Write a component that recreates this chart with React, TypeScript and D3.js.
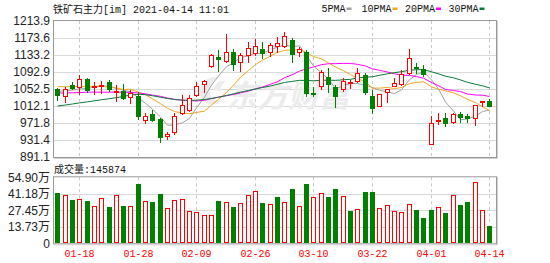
import React from "react";
import * as d3 from "d3";

const dates = ["01-13","01-14","01-15","01-18","01-19","01-20","01-21","01-22","01-25","01-26","01-27","01-28","01-29","02-01","02-02","02-03","02-04","02-05","02-08","02-09","02-10","02-18","02-19","02-22","02-23","02-24","02-25","02-26","03-01","03-02","03-03","03-04","03-05","03-08","03-09","03-10","03-11","03-12","03-15","03-16","03-17","03-18","03-19","03-22","03-23","03-24","03-25","03-26","03-29","03-30","03-31","04-01","04-02","04-06","04-07","04-08","04-09","04-12","04-13","04-14"];

const openP = [1052,1033,1062,1054,1076,1054,1056.5,1070,1042.5,1047.5,1030.5,1036,976.5,993,980.5,938,949,993,1001,1036,1062,1104,1127.5,1116.5,1141,1113.5,1131,1135.5,1146.5,1138,1153,1151.5,1169,1138.5,1141,1043,1056.5,1081.5,1058,1050,1064.5,1070,1085.5,1036,1010.5,1042.5,1058,1062,1088,1104,1100,919.5,978,983,971,993,988.5,980.5,1018.5,1024.5];
const highP = [1055,1058,1070,1085,1078,1070,1072,1074,1062,1064.5,1050,1046,995,1002.5,983,951,995,1038,1038,1070,1074,1135.5,1145,1183,1146.5,1137,1165,1170,1165,1161,1176.5,1188.5,1173,1153,1145,1057,1097.5,1101.5,1062,1078,1074,1101.5,1090,1050,1040.5,1053.5,1078,1097.5,1146.5,1113.5,1109.5,988.5,995,995,996,998.5,993,1014.5,1024,1028];
const lowP = [1024.5,1018.5,1050,1038,1042,1038,1040.5,1046,1022.5,1026.5,1017,979,969.5,975,925,931.5,943.5,991,998.5,1033,1043.5,1101.5,1093.5,1114,1095,1093.5,1113.5,1131,1123.5,1129,1137,1149,1115,1129,1033.5,1033,1050,1042.5,1006.5,1046,1052,1067.5,1038.5,993,1010,1020,1056.5,1059.5,1085.5,1088,1081.5,919.5,967,963,969.5,971,972.5,964.5,1009,1009];
const closeP = [1037,1053,1052.5,1075.5,1048.5,1059.5,1062.5,1050,1047.5,1028,1042.5,986,988.5,977.5,935.5,945.5,988.5,1014.5,1030.5,1059.5,1072,1133,1121.5,1141,1108.5,1133,1151,1154.5,1135.5,1157,1161,1178.5,1133,1146.5,1040.5,1038.5,1093.5,1062,1033,1072,1070,1090,1042.5,1004.5,1040,1053,1067.5,1088,1125.5,1100,1085.5,972.5,980,969.5,993,983,980.5,1014.5,1024,1010.5];

// volume in 万 (10k lots)
const volume = [41.6,40.2,36.1,36.6,35.2,31.1,37.4,30.5,40.2,31.1,31.1,49.4,35.2,34.4,40.8,29.7,36.1,36.6,27.2,26.3,23.3,23.3,35.2,34.4,30.5,33.3,40.2,43.8,33.6,32.7,38.5,34.1,44.9,31.1,49.4,38.5,42.2,38.5,45.5,39.4,26.9,28.6,42.4,42.4,29.4,31.9,26.9,25.8,32.7,27.5,21.1,27.5,30.5,25.2,40.2,32.2,34.4,50.7,28.0,14.59];
const volUp = [0,1,0,1,0,1,1,0,1,0,1,0,1,0,0,1,1,1,1,1,1,1,0,1,0,1,1,1,0,1,0,1,0,1,0,1,1,0,0,1,0,1,0,0,1,1,1,1,1,0,0,0,1,0,1,0,0,1,1,0];

const ma5 = [1047,1048,1050,1053,1053.3,1057.8,1059.7,1059.2,1053.6,1049.5,1046.1,1030.8,1018.5,1004.5,986,966.6,967.1,972.3,982.9,1007.7,1033,1061.9,1083.3,1105.4,1115.2,1127.4,1131,1137.6,1136.5,1146.2,1151.8,1157.3,1153,1155.2,1131.9,1107.4,1090.4,1076.2,1053.5,1059.8,1066.1,1065.4,1061.5,1055.8,1049.4,1046,1041.5,1050.6,1074.8,1086.8,1093.3,1074.3,1052.7,1021.5,1000.1,979.6,981.2,988.1,999,1002.5];
const ma10 = [1058,1058,1058,1058.5,1059,1059,1058.5,1057,1054.5,1051.4,1052,1045.3,1038.9,1029.1,1017.8,1006.4,999,995.4,993.7,996.9,999.8,1014.5,1027.8,1044.2,1061.5,1080.2,1096.5,1110.5,1121,1130.7,1139.6,1144.2,1145.3,1145.9,1139.1,1129.6,1123.9,1114.6,1104.4,1095.9,1086.8,1077.9,1068.9,1054.7,1054.6,1056.1,1053.5,1056.1,1065.3,1068.1,1069.7,1057.9,1051.7,1048.2,1043.5,1036.5,1027.8,1020.4,1010.3,1001.3];
const ma20 = [1043,1043,1043.5,1044,1045,1045,1045,1045,1045,1045,1044.5,1043,1041,1038,1035,1031,1028,1026,1025,1024.1,1025.9,1029.9,1033.3,1036.6,1039.6,1043.3,1047.7,1052.9,1057.3,1063.8,1069.7,1079.3,1086.6,1095,1100.3,1104.9,1110.2,1112.5,1112.7,1113.3,1113.2,1111,1107.1,1100.3,1096.8,1092.8,1088.7,1085.3,1084.8,1082,1078.2,1067.9,1060.3,1051.4,1049,1046.3,1040.6,1038.2,1037.8,1034.7];
const ma30 = [1012,1014.5,1017,1019.5,1022,1024.5,1027,1029.5,1032,1035,1038,1040,1039,1036.5,1033,1030,1027.5,1026,1025.5,1026,1027.5,1030,1033,1037,1041,1045,1049,1052.5,1056,1059.7,1063.8,1068,1070.7,1073,1072.8,1072.1,1073.1,1073.5,1073,1074.5,1075.4,1078.9,1080.7,1081.6,1085,1088.6,1091.3,1093.7,1096.9,1098.2,1098.7,1093.3,1088.6,1082.9,1079,1074,1068.4,1063.7,1060,1055.1];

const priceTicks = [1213.9,1173.6,1133.2,1092.9,1052.5,1012.1,971.8,931.4,891.1];
const volTicks = [54.90,41.18,27.45,13.73,0];
const volTickLabels = ["54.90万","41.18万","27.45万","13.73万","0"];
const tickDates = ["01-18","01-28","02-09","02-26","03-10","03-22","04-01","04-14"];

const legendItems = [
  { name: "5PMA", color: "#a0a0a0", data: ma5, tx: 321.5 },
  { name: "10PMA", color: "#f5a623", data: ma10, tx: 361.5 },
  { name: "20PMA", color: "#ff00ff", data: ma20, tx: 405 },
  { name: "30PMA", color: "#0b7a3a", data: ma30, tx: 448.5 },
];

const RED = "#ff0000";
const GREEN = "#008000";
const MONO = "'Liberation Mono', 'Noto Sans CJK SC', monospace";
const SANS = "'Liberation Sans', Arial, 'Noto Sans CJK SC', sans-serif";

export default function App() {
  const L = 53, Rr = 497;
  const pTop = 21, pBot = 157;
  const vTop = 177.3, vBot = 243.3;

  const x = d3.scaleBand<string>().domain(dates).range([53.6, 492.8]);
  const cxOf = (d: string) => Math.round((x(d) as number) + x.bandwidth() / 2);
  const y = d3.scaleLinear().domain([891.1, 1213.9]).range([pBot, pTop]);
  const yv = d3.scaleLinear().domain([0, 54.9]).range([vBot, vTop]);

  const line = (arr: number[]) =>
    d3.line<number>()
      .x((_, i) => cxOf(dates[i]) + 0.5)
      .y((v) => y(v))(arr) as string;

  return (
    <div style={{ position: "absolute", left: 0, top: 0 }}>
      <svg width={550} height={263} style={{ display: "block", background: "#fff" }}>
        {/* title */}
        <text x={53} y={12.5} fontSize={10} fontFamily={MONO} fill="#111">铁矿石主力[im] 2021-04-14 11:01</text>
        {/* legend */}
        {legendItems.map((it) => (
          <g key={it.name}>
            <text x={it.tx} y={12} fontSize={10} fontFamily={MONO} fill="#111">{it.name}</text>
            <rect x={it.tx + it.name.length * 6 + 1} y={7.5} width={5} height={2.5} fill={it.color} />
          </g>
        ))}

        {/* price panel gridlines */}
        {priceTicks.slice(1, -1).map((t) => (
          <line key={"pg" + t} x1={L} x2={Rr} y1={Math.round(y(t)) + 0.5} y2={Math.round(y(t)) + 0.5} stroke="#d9d9d9" />
        ))}
        {tickDates.map((d) => (
          <line key={"pv" + d} x1={cxOf(d) + 0.5} x2={cxOf(d) + 0.5} y1={pTop} y2={pBot} stroke="#c8c8c8" strokeDasharray="3,3" />
        ))}
        {/* watermark */}
        <g fill="#ececec">
          <path d="M200,96 C198,84 206,76 218,77 C212,81 208,87 210,94 C212,100 218,102 224,99 C220,106 204,107 200,96 Z" />
          <path d="M214,90 C214,84 219,80 226,81 C222,84 220,88 221,92 Z" />
        </g>
        <text x={226} y={107} fontSize={31} fontWeight="bold" fontStyle="italic" fontFamily="'Noto Sans CJK SC', sans-serif" fill="#ececec">东方财富</text>

        {/* MA lines */}
        {legendItems.map((it) => (
          <path key={"ma" + it.name} d={line(it.data)} fill="none" stroke={it.color} strokeWidth={1} />
        ))}

        {/* candles */}
        <g shapeRendering="crispEdges">
          {dates.map((d, i) => {
            const c = cxOf(d);
            const o = openP[i], cl = closeP[i], h = highP[i], lo = lowP[i];
            const up = cl >= o;
            const yTop = Math.round(y(Math.max(o, cl)));
            const yBot = Math.round(y(Math.min(o, cl)));
            const yH = Math.round(y(h));
            const yL = Math.round(y(lo));
            const col = up ? RED : GREEN;
            const bh = Math.max(1, yBot - yTop);
            return (
              <g key={d}>
                <line x1={c + 0.5} x2={c + 0.5} y1={yH} y2={yTop} stroke={col} />
                <line x1={c + 0.5} x2={c + 0.5} y1={yTop + bh} y2={Math.max(yL, yTop + bh)} stroke={col} />
                {up ? (
                  <rect x={c - 1.5} y={yTop + 0.5} width={4} height={Math.max(0.5, bh - 1)} fill="#fff" stroke={col} />
                ) : (
                  <rect x={c - 2} y={yTop} width={5} height={bh} fill={col} />
                )}
              </g>
            );
          })}
        </g>

        {/* price frame */}
        <rect x={L + 0.5} y={pTop - 0.5} width={Rr - L - 1} height={pBot - pTop + 1} fill="none" stroke="#999" />
        <line x1={Rr + 0.5} x2={Rr + 0.5} y1={pTop} y2={pBot + 1} stroke="#d0d0d0" />
        <line x1={L + 1} x2={Rr + 1} y1={pBot + 1.5} y2={pBot + 1.5} stroke="#d0d0d0" />
        {priceTicks.map((t) => (
          <text key={"pt" + t} x={50} y={y(t)} dy="0.36em" textAnchor="end" fontSize={12} fontFamily={SANS} fill="#222">{t.toFixed(1)}</text>
        ))}

        {/* volume */}
        <text x={54} y={172.5} fontSize={10} fontFamily={MONO} fill="#111">成交量:145874</text>
        {volTicks.slice(1, -1).map((t) => (
          <line key={"vg" + t} x1={L} x2={Rr} y1={Math.round(yv(t)) + 0.5} y2={Math.round(yv(t)) + 0.5} stroke="#d9d9d9" />
        ))}
        {tickDates.map((d) => (
          <line key={"vv" + d} x1={cxOf(d) + 0.5} x2={cxOf(d) + 0.5} y1={vTop} y2={vBot} stroke="#c8c8c8" strokeDasharray="3,3" />
        ))}
        <g shapeRendering="crispEdges">
          {dates.map((d, i) => {
            const c = cxOf(d);
            const yt = Math.round(yv(volume[i]));
            const yb = Math.round(yv(0));
            return volUp[i] ? (
              <rect key={"v" + d} x={c - 1.5} y={yt + 0.5} width={4} height={yb - yt - 1} fill="#fff" stroke={RED} />
            ) : (
              <rect key={"v" + d} x={c - 2} y={yt} width={5} height={yb - yt} fill={GREEN} />
            );
          })}
        </g>
        <rect x={L + 0.5} y={vTop - 0.5} width={Rr - L - 1} height={vBot - vTop + 1} fill="none" stroke="#999" />
        <line x1={Rr + 0.5} x2={Rr + 0.5} y1={vTop} y2={vBot + 1} stroke="#d0d0d0" />
        <line x1={L + 1} x2={Rr + 1} y1={vBot + 1.5} y2={vBot + 1.5} stroke="#d0d0d0" />
        {volTicks.map((t, i) => (
          <text key={"vt" + t} x={50} y={yv(t)} dy="0.36em" textAnchor="end" fontSize={12} fontFamily={SANS} fill="#222">{volTickLabels[i]}</text>
        ))}
        {tickDates.map((d) => (
          <text key={"dl" + d} x={cxOf(d) + 0.5} y={257} textAnchor="middle" fontSize={10} fontFamily={MONO} fill={RED}>{d}</text>
        ))}
      </svg>
    </div>
  );
}
